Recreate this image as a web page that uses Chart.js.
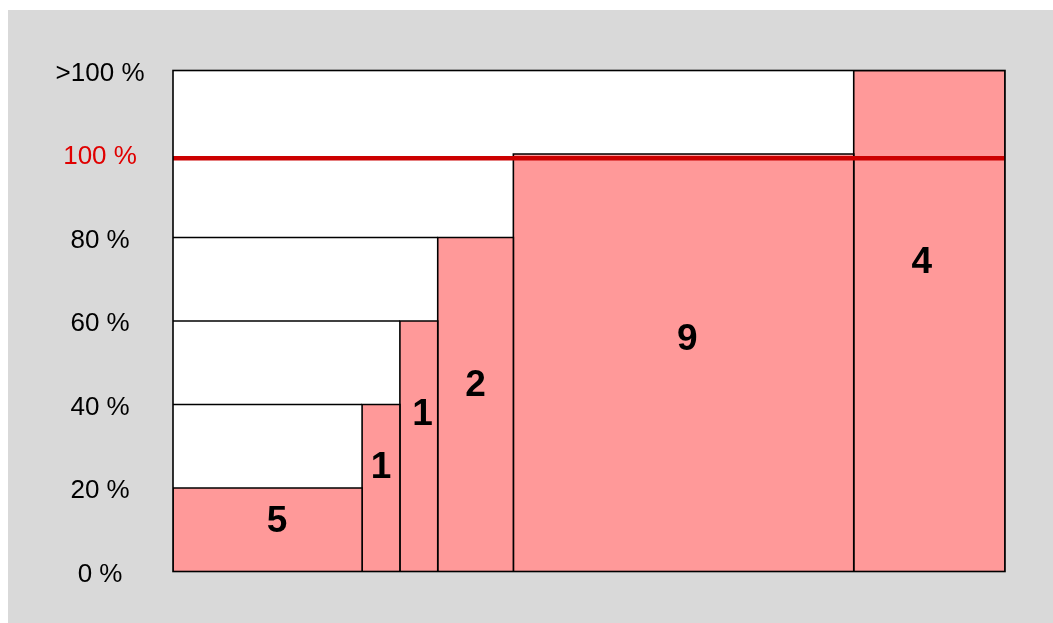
<!DOCTYPE html>
<html>
<head>
<meta charset="utf-8">
<script src="https://cdn.jsdelivr.net/npm/chart.js@4/dist/chart.umd.min.js"></script>
<style>
  html, body { margin: 0; padding: 0; background: #ffffff; }
  #wrap { position: absolute; left: 8px; top: 10px; width: 1045px; height: 613px; background: #d9d9d9; }
  canvas { display: block; }
</style>
</head>
<body>
<div id="wrap"><canvas id="c" width="1045" height="613"></canvas></div>
<script>
// ---- data ----
const counts = [5, 1, 1, 2, 9, 4];              // bar widths (number of items) and labels
const levels = [20, 40, 60, 80, 100, 120];      // bar heights in %, 120 = ">100 %"
const tickLabels = ['0 %', '20 %', '40 %', '60 %', '80 %', '100 %', '>100 %'];
const targetLevel = 99;                         // red reference line (100 % mark)

// ---- build datasets from the data ----
const starts = [];
let acc = 0;
counts.forEach(c => { starts.push(acc); acc += c; });
const total = acc;

const datasets = [];
counts.forEach((c, i) => {
  const x0 = starts[i], x1 = starts[i] + c, h = levels[i];
  datasets.push({
    data: [{x: x0, y: 0}, {x: x0, y: h}, {x: x1, y: h}, {x: x1, y: 0}],
    showLine: true, fill: 'origin',
    backgroundColor: '#ff9999', borderColor: '#000000', borderWidth: 1.6,
    pointRadius: 0, tension: 0, order: 3
  });
});
// level lines in the empty area, from the axis to each bar's left edge
levels.forEach((h, i) => {
  if (i > 0 && h < 100) {
    datasets.push({
      data: [{x: 0, y: h}, {x: starts[i], y: h}],
      showLine: true, fill: false, borderColor: '#000000', borderWidth: 1.4,
      pointRadius: 0, order: 2
    });
  }
});
// red 100 % line
datasets.push({
  data: [{x: 0, y: targetLevel}, {x: total, y: targetLevel}],
  showLine: true, fill: false, borderColor: '#cc0000', borderWidth: 4.5,
  pointRadius: 0, order: 1
});

const areaPlugin = {
  id: 'areaPlugin',
  beforeDatasetsDraw(chart) {
    const {ctx, chartArea: a} = chart;
    ctx.save();
    ctx.fillStyle = '#ffffff';
    ctx.fillRect(a.left, a.top, a.right - a.left, a.bottom - a.top);
    ctx.restore();
  },
  afterDatasetsDraw(chart, args, opts) {
    const {ctx, chartArea: a, scales} = chart;
    ctx.save();
    ctx.strokeStyle = '#000000';
    ctx.lineWidth = 1.6;
    ctx.strokeRect(a.left, a.top, a.right - a.left, a.bottom - a.top);
    ctx.fillStyle = '#000000';
    ctx.font = 'bold 37px "Liberation Sans", Arial, sans-serif';
    ctx.textAlign = 'center';
    ctx.textBaseline = 'middle';
    counts.forEach((c, i) => {
      const x = scales.x.getPixelForValue(starts[i] + c / 2 + opts.labelDx[i]);
      const y = scales.y.getPixelForValue(opts.labelAt[i]);
      ctx.fillText(String(c), x, y);
    });
    ctx.restore();
  }
};

new Chart(document.getElementById('c'), {
  type: 'scatter',
  data: { datasets },
  plugins: [areaPlugin],
  options: {
    responsive: false,
    animation: false,
    events: [],
    layout: { padding: { top: 60.5, right: 48, bottom: 51.5, left: 0 } },
    plugins: {
      legend: { display: false },
      tooltip: { enabled: false },
      areaPlugin: {
        labelAt: [12.0, 24.8, 37.5, 44.4, 55.4, 73.9],
        labelDx: [0.25, 0.0, 0.1, 0, 0.1, -0.2]
      }
    },
    scales: {
      x: { type: 'linear', min: 0, max: total, display: false },
      y: {
        type: 'linear', min: 0, max: 120,
        afterFit(scale) { scale.width = 165; },
        grid: { display: false, drawTicks: false, tickLength: 0 },
        border: { display: false },
        ticks: {
          stepSize: 20,
          padding: 28.5,
          labelOffset: 3,
          crossAlign: 'center',
          font: { family: '"Liberation Sans", Arial, sans-serif', size: 26 },
          color: (ctx) => (ctx.tick && ctx.tick.value === 100) ? '#e00000' : '#000000',
          callback: (v) => tickLabels[Math.round(v / 20)]
        }
      }
    }
  }
});
</script>
</body>
</html>
